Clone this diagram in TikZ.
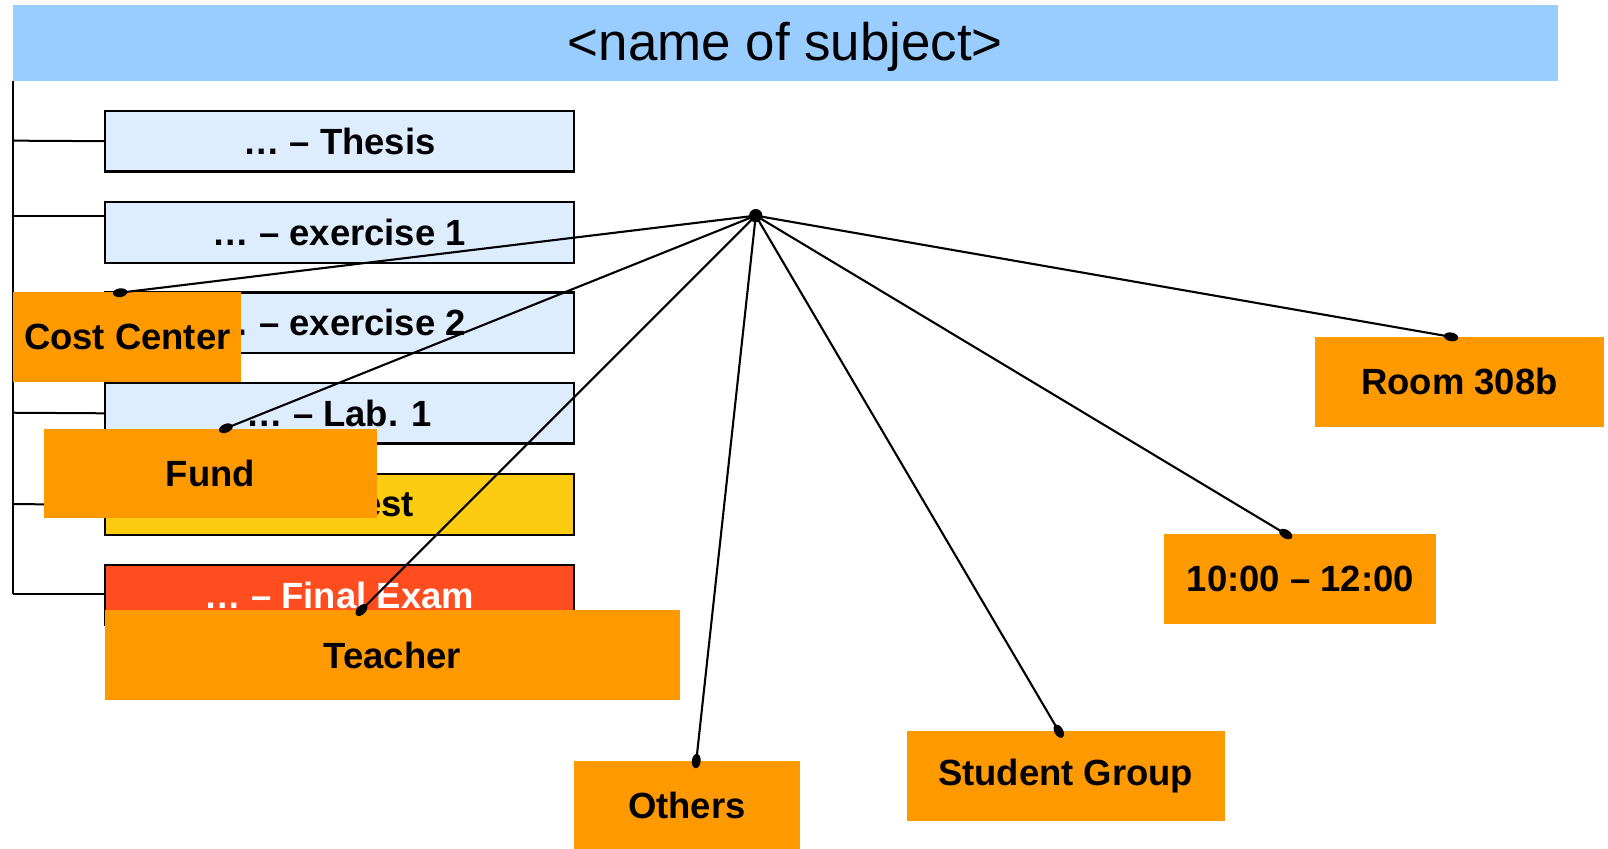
\documentclass[tikz,border=0pt]{standalone}
\usepackage{fontspec}
\setmainfont{Liberation Sans}
\usetikzlibrary{calc,shapes.geometric}
\definecolor{titleblue}{HTML}{99CCFF}
\definecolor{paleblue}{HTML}{DDEDFD}
\definecolor{testyellow}{HTML}{FDCB0F}
\definecolor{examred}{HTML}{FF4D1F}
\definecolor{tagorange}{HTML}{FF9900}
\tikzset{
  treeline/.style={line width=2pt, black},
  taskbox/.style={draw=black, line width=2.3pt, fill=paleblue, minimum width=457, minimum height=59,
    anchor=north west, inner sep=0pt, outer sep=0pt, font=\fontsize{35.5}{40}\selectfont\bfseries},
  tagbox/.style={fill=tagorange, anchor=north west, inner sep=0pt, outer sep=0pt, minimum height=88,
    font=\fontsize{35.5}{40}\selectfont\bfseries},
  link/.style={line width=2.1pt, black},
  enddot/.style={fill=black, draw=none, ellipse, inner sep=0pt, minimum width=14, minimum height=8.5, sloped},
}
\begin{document}
\begin{tikzpicture}[x=1pt,y=-1pt,scale=1.0267,every node/.append style={transform shape}]
\useasboundingbox (0,0) rectangle (1566.2,826.9);
% title bar
\node[fill=titleblue, anchor=north west, minimum width=1504, minimum height=74, inner sep=0pt, outer sep=0pt,
  text height=38, text depth=4, font=\fontsize{51.5}{58}\selectfont] (title) at (13,5) {<name of subject>};
% task boxes
\node[taskbox] (thesis) at (102,108) {… – Thesis};
\node[taskbox] (exA) at (102,197) {… – exercise 1};
\node[taskbox] (exB) at (102,285) {… – exercise 2};
\node[taskbox] (lab) at (102,373) {… – Lab. 1};
\node[taskbox, fill=testyellow] (test) at (102,462) {… – Test};
\node[taskbox, fill=examred, text=white] (final) at (102,550) {… – Final Exam};
% tree
\coordinate (treetop) at (13,79);
\coordinate (treebot) at (13,578);
\draw[treeline] (treetop) -- (treebot);
\draw[treeline] (13,137) -- (thesis.west);
\draw[treeline] (13,210) -- (exA.west |- 0,210);
\draw[treeline] (13,314) -- (exB.west);
\draw[treeline] (13,402) -- (lab.west);
\draw[treeline] (13,491) -- (test.west);
\draw[treeline] (treebot) -- (final.west |- treebot);
% tag boxes
\node[tagbox, minimum width=222] (cc) at (13,284) {Cost Center};
\node[tagbox, minimum width=324, minimum height=87] (fund) at (43,418) {Fund};
\node[tagbox, minimum width=560] (teacher) at (102,594) {Teacher};
\node[tagbox, minimum width=220, minimum height=87] (others) at (559,741) {Others};
\node[tagbox, minimum width=310] (sg) at (883,712) {Student Group};
\node[tagbox, minimum width=265] (time) at (1134,520) {10:00 – 12:00};
\node[tagbox, minimum width=281] (room) at (1281,328) {Room 308b};
% connection points
\coordinate (hub) at (736,210);
\coordinate (ccP) at ($(cc.north west)+(104,1)$);
\coordinate (fundP) at ($(fund.north west)+(177,-1)$);
\coordinate (teacherP) at ($(teacher.north west)+(250,0)$);
\coordinate (othersP) at ($(others.north west)+(119,0)$);
\coordinate (sgP) at ($(sg.north west)+(148,0)$);
\coordinate (timeP) at ($(time.north west)+(118,0)$);
\coordinate (roomP) at ($(room.north west)+(132,0)$);
\foreach \p in {ccP,fundP,teacherP,othersP,sgP,timeP,roomP}{
  \draw[link] (hub) -- (\p) node[enddot, pos=1] {};
}
\fill[black] (hub) circle[radius=6.5];
\end{tikzpicture}
\end{document}
